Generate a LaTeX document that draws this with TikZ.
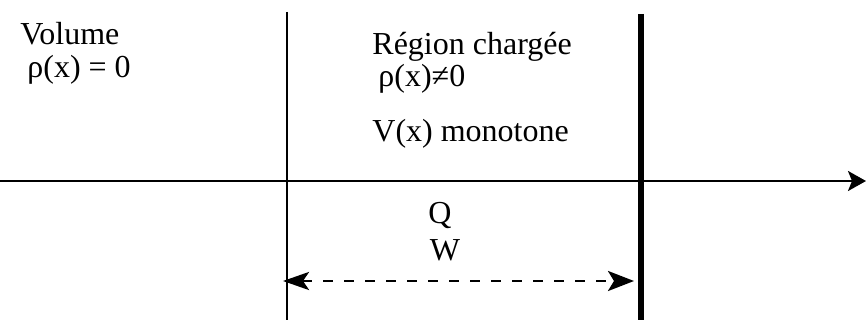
\documentclass[tikz,border=0pt]{standalone}
\usepackage{fontspec}
\setmainfont{Liberation Serif}
\usetikzlibrary{arrows.meta}

\begin{document}
\begin{tikzpicture}[
    x=0.5pt, y=-0.5pt,
    label/.style={inner sep=0pt, anchor=base west, font=\fontsize{16}{19}\selectfont},
    wall/.style={draw, line width=1.3pt},
    axis/.style={draw, line width=1.1pt, -{Stealth[length=9pt,width=10pt,inset=2pt]}},
    span/.style={draw, line width=1.4pt, dash pattern=on 5pt off 5.5pt,
                 {Stealth[length=13pt,width=9pt,inset=3pt]}-{Stealth[length=13pt,width=10pt,inset=3pt]}}
  ]
    \useasboundingbox (0,0) rectangle (866,320);

    % axe et limites de la zone
    \coordinate (xa) at (0,181);
    \coordinate (xb) at (866,181);
    \coordinate (l1) at (287,12);
    \coordinate (l2) at (287,320);
    \coordinate (r1) at (641,14);
    \coordinate (r2) at (641,320);
    \coordinate (wa) at (283,281);
    \coordinate (wb) at (634,281);

    \node (vol)   [label] at (20,45)  {Volume};
    \node (rho0)  [label] at (27,78)  {ρ(x) = 0};
    \node (reg)   [label] at (372,55) {Région chargée};
    \node (rhonz) [label] at (378,87) {ρ(x)≠0};
    \node (mono)  [label] at (372,142){V(x) monotone};
    \node (q)     [label, anchor=base] at (440,223) {Q};
    \node (w)     [label, anchor=base] at (445,260) {W};

    \draw[axis] (xa) -- (xb);
    \draw[wall] (l1) -- (l2);
    \draw[wall, line width=2.6pt] (r1) -- (r2);
    \draw[span] (wa) -- (wb);
  \end{tikzpicture}
\end{document}
